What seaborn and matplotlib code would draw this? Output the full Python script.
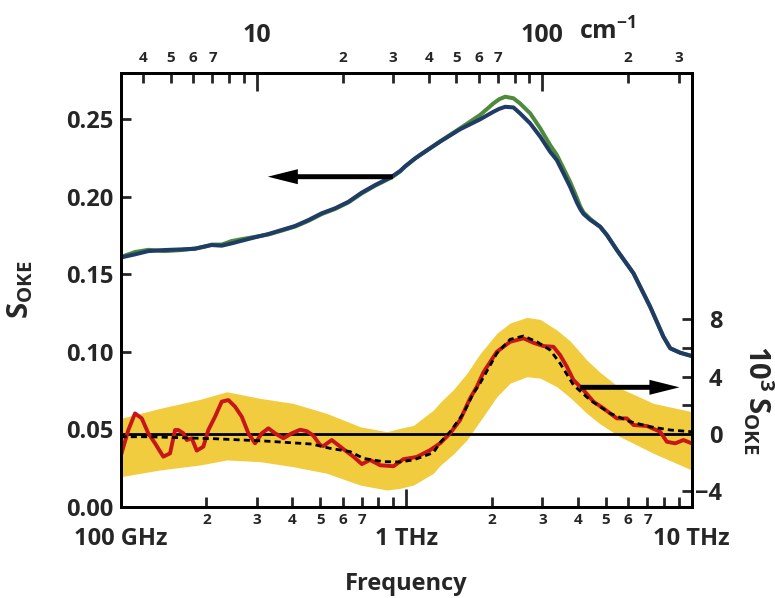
import matplotlib
matplotlib.use("Agg")
import matplotlib.pyplot as plt
import pandas as pd
import seaborn as sns
from matplotlib.ticker import FixedLocator, FixedFormatter

# ---------------- data ----------------
# OKE spectra (left axis), frequency in THz
freq_spectrum = [0.100, 0.101, 0.1124, 0.1251, 0.1432, 0.1638, 0.1824, 0.1977, 0.2086, 0.2262,
                 0.2452, 0.2658, 0.2959, 0.3294, 0.3668, 0.4085, 0.4548, 0.5067, 0.5641, 0.628,
                 0.699, 0.779, 0.891, 0.953, 0.992, 1.075, 1.119, 1.315, 1.545, 1.815,
                 2.022, 2.12, 2.223, 2.376, 2.505, 2.719, 2.950, 3.194, 3.372, 3.556, 3.752,
                 3.962, 4.07, 4.178, 4.41, 4.781, 5.047, 5.47, 6.254, 7.155, 7.965, 8.41,
                 9.116, 10.0]
s_oke_green = [0.1600, 0.1612, 0.1642, 0.1656, 0.1648, 0.1655, 0.1665, 0.1676, 0.1690, 0.1690,
               0.1713, 0.1725, 0.1740, 0.1755, 0.1780, 0.1806, 0.1843, 0.1887, 0.1920, 0.1962,
               0.2020, 0.2070, 0.2124, 0.2162, 0.2193, 0.2245, 0.2268, 0.2356, 0.2440, 0.2526,
               0.2601, 0.2628, 0.2644, 0.2634, 0.2601, 0.2537, 0.2440, 0.2332, 0.2268, 0.2182, 0.2095,
               0.1992, 0.1936, 0.1898, 0.1856, 0.1805, 0.1752, 0.1655, 0.1505, 0.1289, 0.1095, 0.1021,
               0.0992, 0.0971]
s_oke_blue = [0.1600, 0.1608, 0.1627, 0.1648, 0.1655, 0.1659, 0.1663, 0.1679, 0.1687, 0.1683,
              0.1698, 0.1715, 0.1737, 0.1758, 0.1784, 0.1810, 0.1848, 0.1892, 0.1924, 0.1966,
              0.2025, 0.2074, 0.2128, 0.2165, 0.2195, 0.2246, 0.2268, 0.2354, 0.2434, 0.2498,
              0.2547, 0.2566, 0.2579, 0.2575, 0.2537, 0.2472, 0.2386, 0.2289, 0.2235, 0.2150, 0.2063,
              0.1962, 0.1920, 0.1888, 0.1850, 0.1805, 0.1752, 0.1655, 0.1505, 0.1289, 0.1095, 0.1021,
              0.0992, 0.0971]

# difference spectrum (right axis, 10^3 S_OKE)
freq_diff = [0.100, 0.1065, 0.1124, 0.1187, 0.1251, 0.1321, 0.1412, 0.1491, 0.1552, 0.1594,
             0.1660, 0.1706, 0.1776, 0.1849, 0.1950, 0.2030, 0.2143, 0.2262, 0.2386, 0.2518,
             0.2658, 0.2804, 0.2959, 0.3124, 0.3294, 0.3477, 0.3718, 0.3978, 0.4254, 0.449,
             0.473, 0.500, 0.513, 0.549, 0.603, 0.654, 0.700, 0.748, 0.811, 0.903,
             0.978, 1.090, 1.214, 1.315, 1.426, 1.546, 1.676, 1.769, 1.865, 2.078,
             2.313, 2.576, 2.792, 3.026, 3.280, 3.462, 3.655, 3.855, 4.178, 4.529,
             4.909, 5.470, 5.93, 6.254, 6.97, 7.757, 8.186, 8.754, 9.36, 10.0]
diff_measured = [-1.60, 0.28, 1.44, 1.09, 0.05, -0.65, -1.58, -1.35, 0.28, 0.28,
                 0.05, -0.42, -0.30, -1.16, -0.88, 0.28, 1.21, 2.26, 2.37, 1.91,
                 1.21, 0.05, -0.65, 0.05, 0.40, 0.05, -0.30, 0.05, 0.30, 0.20,
                 -0.10, -0.77, -0.84, -0.42, -1.05, -1.58, -2.10, -1.81, -2.18, -2.25,
                 -1.76, -1.60, -1.12, -0.65, 0.05, 0.98, 2.50, 3.30, 4.30, 5.74,
                 6.44, 6.68, 6.37, 6.14, 6.09, 5.51, 4.70, 3.77, 3.07, 2.26,
                 1.79, 1.09, 1.09, 0.63, 0.56, 0.16, -0.54, -0.65, -0.42, -0.65]

freq_model = [0.100, 0.125, 0.214, 0.320, 0.467, 0.542, 0.637, 0.709, 0.833, 0.950,
              1.061, 1.182, 1.246, 1.315, 1.426, 1.588, 1.720, 1.815, 2.078, 2.313,
              2.576, 2.870, 3.194, 3.462, 3.855, 4.410, 5.180, 6.090, 7.155, 8.410, 10.0]
diff_model = [-0.19, -0.19, -0.33, -0.49, -0.70, -1.00, -1.23, -1.70, -1.93, -1.95,
              -1.81, -1.47, -1.30, -0.60, 0.16, 1.44, 2.84, 3.54, 5.63, 6.61,
              6.84, 6.44, 5.86, 4.93, 3.42, 2.37, 1.44, 0.86, 0.51, 0.28, 0.16]

freq_band = [0.100, 0.1375, 0.190, 0.2355, 0.308, 0.402, 0.5275, 0.690, 0.856, 0.953,
             1.061, 1.246, 1.315, 1.464, 1.632, 1.815, 2.078, 2.313, 2.647, 2.950,
             3.373, 3.752, 4.296, 4.781, 5.618, 7.35, 10.0]
band_upper = [1.09, 1.79, 2.42, 2.95, 2.49, 2.14, 1.44, 0.51, 0.16, 0.40,
              0.60, 1.67, 2.20, 3.10, 4.23, 5.60, 7.03, 7.75, 8.14, 8.00,
              7.26, 6.50, 5.16, 4.30, 3.19, 2.14, 1.56]
band_lower = [-2.98, -2.51, -2.16, -1.81, -1.93, -2.28, -2.74, -3.56, -3.91, -3.79,
              -3.56, -2.74, -2.20, -1.40, -0.42, 0.90, 2.60, 3.55, 4.00, 3.90,
              3.30, 2.55, 1.44, 0.70, -0.19, -1.35, -2.51]

# axis ticks
freq_major = [0.1, 1.0, 10.0]
freq_major_labels = ["100 GHz", "1 THz", "10 THz"]
freq_minor = [0.2, 0.3, 0.4, 0.5, 0.6, 0.7, 0.8, 0.9, 2, 3, 4, 5, 6, 7, 8, 9]
freq_minor_labels = ["2", "3", "4", "5", "6", "7", "", "", "2", "3", "4", "5", "6", "7", "", ""]
wn_major = [10, 100]
wn_major_labels = ["10", "100"]
wn_minor = [4, 5, 6, 7, 8, 9, 20, 30, 40, 50, 60, 70, 80, 90, 200, 300]
wn_minor_labels = ["4", "5", "6", "7", "", "", "2", "3", "4", "5", "6", "7", "", "", "2", "3"]
left_ticks = [0.00, 0.05, 0.10, 0.15, 0.20, 0.25]
left_labels = ["0.00", "0.05", "0.10", "0.15", "0.20", "0.25"]
right_ticks = [-4, 0, 4, 8]
right_minor = [-2, 2, 6]

THZ_TO_WAVENUMBER = 33.356

# ---------------- style ----------------
sns.set_theme(style="ticks")
plt.rcParams["font.family"] = ["Open Sans", "DejaVu Sans"]
plt.rcParams["font.weight"] = "bold"
plt.rcParams["mathtext.fontset"] = "custom"
plt.rcParams["mathtext.rm"] = "Open Sans:bold"
plt.rcParams["mathtext.bf"] = "Open Sans:bold"
plt.rcParams["mathtext.default"] = "bf"

BLUE = "#1f3c66"
GREEN = "#4f8a3c"
RED = "#c8141b"
YELLOW = "#f2cc3f"

fig = plt.figure(figsize=(7.75, 5.98), dpi=100)
ax = fig.add_axes([0.1555, 0.1530, 0.7370, 0.7249])
ax.set_xscale("log")
ax2 = ax.twinx()

# difference spectrum with its uncertainty band
ax2.fill_between(freq_band, band_lower, band_upper, color=YELLOW, lw=0, zorder=1)
ax2.axhline(0, color="black", lw=2.0, zorder=2)
diff_df = pd.DataFrame({"freq": freq_diff, "value": diff_measured})
model_df = pd.DataFrame({"freq": freq_model, "value": diff_model})
sns.lineplot(data=diff_df, x="freq", y="value", ax=ax2, color=RED, linewidth=2.8,
             estimator=None, sort=False, zorder=3)
sns.lineplot(data=model_df, x="freq", y="value", ax=ax2, color="black", linewidth=2.0,
             linestyle=(0, (2.2, 1.5)), estimator=None, sort=False, zorder=4)

# full spectra
spec_df = pd.DataFrame({"freq": freq_spectrum, "green": s_oke_green, "blue": s_oke_blue})
sns.lineplot(data=spec_df, x="freq", y="green", ax=ax, color=GREEN, linewidth=2.9,
             estimator=None, sort=False)
sns.lineplot(data=spec_df, x="freq", y="blue", ax=ax, color=BLUE, linewidth=2.9,
             estimator=None, sort=False)

ax.set_xlim(0.1, 10)
ax.set_ylim(0, 0.2797)
ax2.set_ylim(-5.06, 25.2)

# wavenumber axis on top
ax3 = ax.twiny()
ax3.set_xscale("log")
ax3.set_xlim(0.1 * THZ_TO_WAVENUMBER, 10 * THZ_TO_WAVENUMBER)

# ---------------- ticks ----------------
ax.xaxis.set_major_locator(FixedLocator(freq_major))
ax.xaxis.set_major_formatter(FixedFormatter(freq_major_labels))
ax.xaxis.set_minor_locator(FixedLocator(freq_minor))
ax.xaxis.set_minor_formatter(FixedFormatter(freq_minor_labels))
ax.tick_params(axis="x", which="major", direction="in", length=13, width=2,
               pad=15, labelsize=17, top=False)
ax.tick_params(axis="x", which="minor", direction="in", length=7, width=2,
               pad=5, labelsize=11, top=False)

ax.yaxis.set_major_locator(FixedLocator(left_ticks))
ax.yaxis.set_major_formatter(FixedFormatter(left_labels))
ax.yaxis.set_minor_locator(FixedLocator([]))
ax.tick_params(axis="y", which="major", direction="in", length=7, width=2,
               pad=5, labelsize=17, right=False)

ax2.yaxis.set_major_locator(FixedLocator(right_ticks))
ax2.yaxis.set_minor_locator(FixedLocator(right_minor))
ax2.tick_params(axis="y", which="both", direction="in", length=7, width=2,
                pad=22, labelsize=17)

ax3.xaxis.set_major_locator(FixedLocator(wn_major))
ax3.xaxis.set_major_formatter(FixedFormatter(wn_major_labels))
ax3.xaxis.set_minor_locator(FixedLocator(wn_minor))
ax3.xaxis.set_minor_formatter(FixedFormatter(wn_minor_labels))
ax3.tick_params(axis="x", which="major", direction="in", length=13, width=2,
                pad=18, labelsize=18)
ax3.tick_params(axis="x", which="minor", direction="in", length=7, width=2,
                pad=6, labelsize=11)

for a in (ax, ax2, ax3):
    for sp in a.spines.values():
        sp.set_linewidth(2)
        sp.set_color("black")

# ---------------- labels ----------------
ax.set_xlabel("Frequency", fontsize=17, fontweight="bold", va="top")
ax.xaxis.set_label_coords(0.5, -0.152)
ax.set_ylabel(r"$S_{OKE}$", fontsize=21)
ax.yaxis.set_label_coords(-0.15, 0.5)
ax2.set_ylabel(r"$10^{3}\,S_{OKE}$", fontsize=21, rotation=-90, va="bottom")
ax2.yaxis.set_label_coords(1.086, 0.246)
ax3.text(0.852, 1.076, r"$cm^{-1}$", transform=ax3.transAxes, fontsize=18,
         ha="center", va="baseline")

for lbl in ax2.get_yticklabels():
    lbl.set_horizontalalignment("right")

# arrows pointing to the relevant axis
arrow_style = "simple,head_length=2.0,head_width=1.0,tail_width=0.33"
ax.annotate("", xy=(0.328, 0.2128), xytext=(0.898, 0.2128),
            arrowprops=dict(arrowstyle=arrow_style, mutation_scale=10.8, color="black",
                            shrinkA=0, shrinkB=0, lw=0))
ax2.annotate("", xy=(9.06, 3.26), xytext=(4.07, 3.26),
             arrowprops=dict(arrowstyle=arrow_style, mutation_scale=10.8, color="black",
                             shrinkA=0, shrinkB=0, lw=0))

fig.savefig("out.png", dpi=100)
